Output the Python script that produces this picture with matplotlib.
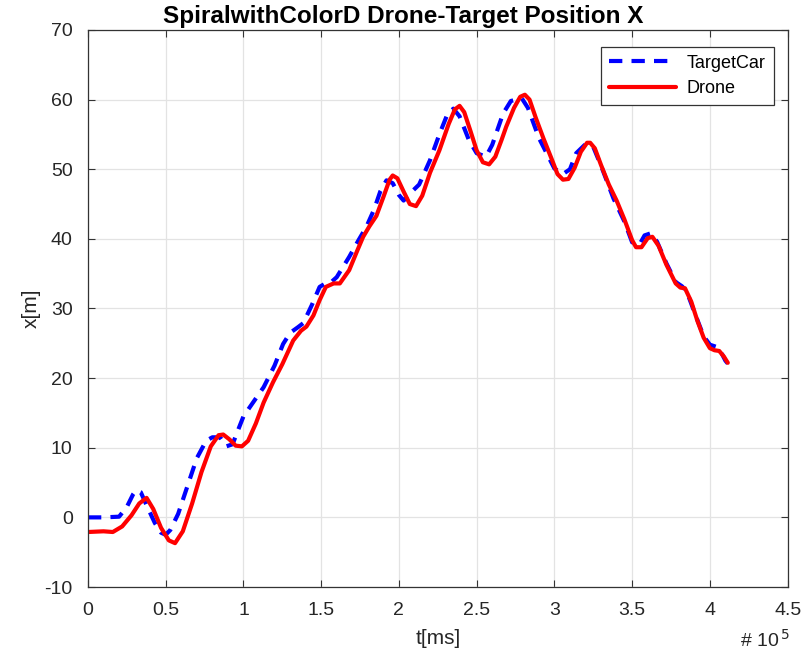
import matplotlib
matplotlib.use("Agg")
import matplotlib.pyplot as plt

plt.rcParams["font.family"] = ["Liberation Sans", "DejaVu Sans"]
plt.rcParams["axes.unicode_minus"] = False

# time in units of 1e5 ms
t_target = [0, 0.1, 0.2, 0.25, 0.29, 0.31, 0.34, 0.38, 0.43, 0.47, 0.5, 0.53, 0.58,
            0.64, 0.7, 0.76, 0.8, 0.85, 0.89, 0.93, 0.97, 1.0, 1.04, 1.13, 1.2, 1.255,
            1.3, 1.35, 1.385, 1.44, 1.49, 1.52, 1.555, 1.6, 1.68, 1.74, 1.79, 1.84,
            1.88, 1.92, 1.96, 2.0, 2.03, 2.07, 2.13, 2.2, 2.26, 2.31, 2.35, 2.39, 2.45,
            2.5, 2.56, 2.6, 2.67, 2.72, 2.79, 2.83, 2.9, 2.95, 3.0, 3.055, 3.1, 3.14,
            3.2, 3.25, 3.3, 3.38, 3.45, 3.5, 3.55, 3.58, 3.62, 3.66, 3.72, 3.78, 3.82,
            3.85, 3.9, 3.96, 4.0, 4.04, 4.07, 4.1, 4.115]
x_target = [0, 0, 0.1, 1.5, 3.3, 3.9, 3.6, 1.6, -0.8, -2.2, -2.5, -1.8, 0.5,
            4.5, 8.5, 11.0, 11.5, 11.5, 10.2, 10.5, 12.8, 14.5, 15.8, 18.7, 21.8, 24.9,
            26.5, 27.3, 27.9, 30.5, 33.1, 33.5, 33.6, 34.5, 37.4, 39.8, 41.7, 44.2,
            46.8, 48.4, 48.0, 46.3, 45.5, 46.5, 47.8, 51.3, 55.0, 57.8, 58.7, 57.6, 54.2,
            52.3, 51.8, 53.5, 58.0, 59.8, 60.2, 58.8, 54.5, 52.3, 50.1, 49.3, 50.0, 52.3,
            53.6, 53.2, 50.5, 45.8, 42.5, 39.5, 39.3, 40.5, 40.8, 39.6, 36.5, 33.8, 33.2,
            32.5, 29.5, 26.0, 24.8, 24.5, 23.8, 22.5, 22.1]

t_drone = [0, 0.1, 0.16, 0.22, 0.28, 0.33, 0.377, 0.42, 0.47, 0.52, 0.56, 0.61, 0.67,
           0.73, 0.79, 0.84, 0.87, 0.91, 0.95, 0.99, 1.03, 1.08, 1.13, 1.19, 1.25, 1.32,
           1.37, 1.405, 1.45, 1.49, 1.53, 1.58, 1.62, 1.68, 1.73, 1.77, 1.81, 1.855, 1.9,
           1.94, 1.96, 1.99, 2.03, 2.07, 2.11, 2.15, 2.2, 2.26, 2.32, 2.36, 2.39, 2.42,
           2.46, 2.5, 2.54, 2.58, 2.62, 2.66, 2.69, 2.74, 2.78, 2.81, 2.84, 2.88, 2.93,
           2.98, 3.02, 3.055, 3.09, 3.13, 3.17, 3.21, 3.23, 3.26, 3.3, 3.35, 3.4, 3.45,
           3.5, 3.525, 3.56, 3.6, 3.63, 3.67, 3.72, 3.78, 3.81, 3.84, 3.88, 3.92, 3.96,
           4.0, 4.03, 4.06, 4.09, 4.115]
x_drone = [-2.1, -2.0, -2.1, -1.3, 0.3, 2.0, 2.8, 1.2, -1.5, -3.3, -3.7, -2.0, 2.0,
           6.5, 10.2, 11.8, 11.9, 11.2, 10.3, 10.2, 11.0, 13.5, 16.5, 19.4, 22.0, 25.4,
           26.8, 27.4, 29.0, 31.2, 33.1, 33.6, 33.6, 35.5, 38.2, 40.3, 41.8, 43.3, 46.0,
           48.5, 49.1, 48.7, 46.8, 45.0, 44.7, 46.2, 49.5, 52.7, 56.5, 58.6, 59.1, 58.2,
           55.5, 52.7, 51.0, 50.7, 51.8, 54.2, 56.1, 58.8, 60.4, 60.7, 60.0, 57.4, 54.4,
           51.6, 49.3, 48.5, 48.6, 50.2, 52.5, 53.8, 53.8, 53.0, 50.6, 47.8, 45.5, 42.8,
           39.8, 38.8, 38.8, 40.1, 40.3, 39.0, 36.3, 33.6, 33.0, 32.9, 31.0, 28.2, 25.8,
           24.3, 24.0, 23.9, 23.1, 22.2]

xticks = [0, 0.5, 1, 1.5, 2, 2.5, 3, 3.5, 4, 4.5]
xtick_labels = ["0", "0.5", "1", "1.5", "2", "2.5", "3", "3.5", "4", "4.5"]
yticks = list(range(-10, 71, 10))

fig = plt.figure(figsize=(8.07, 6.66), dpi=100)
ax = fig.add_axes([0.109, 0.1186, 0.867, 0.8364])

ax.plot(t_target, x_target, color="#0000ff", lw=3, ls=(0, (3.2, 2.2)),
        dash_joinstyle="round", label="TargetCar")
ax.plot(t_drone, x_drone, color="#ff0000", lw=3, solid_joinstyle="round",
        solid_capstyle="round", label="Drone")

ax.set_xlim(0, 4.5)
ax.set_ylim(-10, 70)
ax.set_xticks(xticks)
ax.set_xticklabels(xtick_labels)
ax.set_yticks(yticks)
ax.grid(True, color="#e3e3e3", lw=0.9)
ax.set_axisbelow(True)
ax.tick_params(direction="in", top=True, right=True, labelsize=14, length=5,
               color="#333333", labelcolor="#262626")
ax.tick_params(axis="x", pad=11)
ax.tick_params(axis="y", pad=11)
for sp in ax.spines.values():
    sp.set_color("#333333")
    sp.set_linewidth(0.9)

ax.set_title("SpiralwithColorD Drone-Target Position X", fontsize=17.5, weight="bold",
             x=0.45, pad=5)
ax.set_xlabel("t[ms]", fontsize=15, labelpad=7, color="#262626")
ax.set_ylabel("x[m]", fontsize=15, labelpad=3, color="#262626")
ax.text(1.003, -0.075, r"# 10$^{\,5}$", transform=ax.transAxes, ha="right", va="top",
        fontsize=14, color="#262626")

leg = ax.legend(loc="upper right", bbox_to_anchor=(0.98, 0.97), fontsize=13,
                frameon=True, fancybox=False, edgecolor="#333333", framealpha=1,
                handlelength=3.7, handletextpad=0.6, borderpad=0.45,
                labelspacing=0.45, borderaxespad=0)
leg.get_frame().set_linewidth(0.9)

fig.savefig("out.png", dpi=100)
